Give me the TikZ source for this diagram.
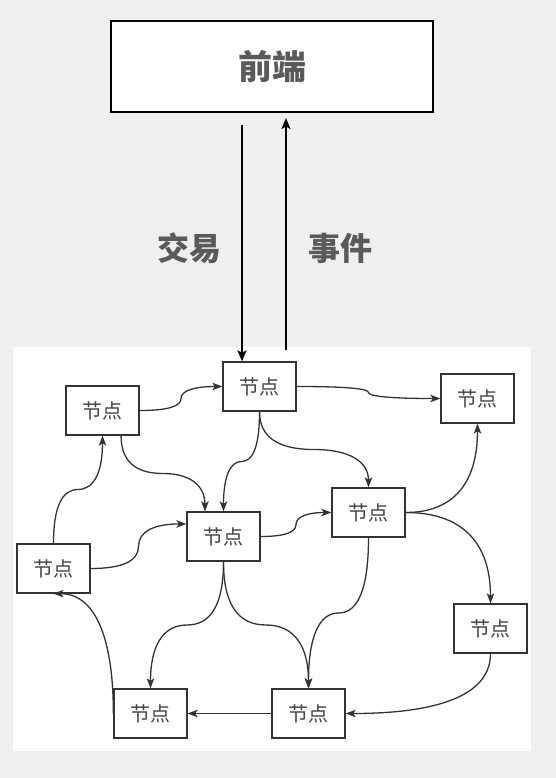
\documentclass[tikz,border=0pt]{standalone}
\usepackage{fontspec}
\newfontfamily\cjk{Noto Sans CJK SC}
\usetikzlibrary{calc,arrows.meta}
\definecolor{bgc}{RGB}{237,239,241}
\definecolor{titlec}{RGB}{90,90,90}
\definecolor{nodec}{RGB}{68,68,68}
\definecolor{edgec}{RGB}{51,51,51}
\tikzset{
  gnode/.style={draw=edgec,line width=1.3pt,fill=white,minimum width=73pt,minimum height=49pt,inner sep=0pt,
    font=\cjk\fontsize{20}{24}\selectfont,text=nodec},
  edge/.style={draw=edgec,line width=1.3pt,-{Stealth[length=10pt,width=7.5pt,inset=2.5pt]}},
  bigarrow/.style={draw=black,line width=2pt,-{Stealth[length=11pt,width=9pt,inset=2.5pt]}},
  biglabel/.style={font=\cjk\bfseries\fontsize{32}{38}\selectfont,text=titlec},
  hs/.style={to path={let \p1=(\tikztostart),\p2=(\tikztotarget),\p3=($(\p1)!.5!(\p2)$),
    \p4=($(\p1)!1/3!(\p2)$),\p5=($(\p1)!2/3!(\p2)$),\p6=($(\p1)!1/6!(\p2)$),\p7=($(\p1)!5/6!(\p2)$) in
    .. controls (\x4,\y1) and (\x3,\y6) .. (\x3,\y3) .. controls (\x3,\y7) and (\x5,\y2) .. (\p2)}},
  vs/.style={to path={let \p1=(\tikztostart),\p2=(\tikztotarget),\p3=($(\p1)!.5!(\p2)$),
    \p4=($(\p1)!1/3!(\p2)$),\p5=($(\p1)!2/3!(\p2)$),\p6=($(\p1)!1/6!(\p2)$),\p7=($(\p1)!5/6!(\p2)$) in
    .. controls (\x1,\y4) and (\x6,\y3) .. (\x3,\y3) .. controls (\x7,\y3) and (\x2,\y5) .. (\p2)}},
  hv/.style={to path={let \p1=(\tikztostart),\p2=(\tikztotarget),
    \p4=($(\p1)!1/3!(\p2)$),\p5=($(\p1)!2/3!(\p2)$) in
    .. controls (\x5,\y1) and (\x2,\y4) .. (\p2)}},
  vh/.style={to path={let \p1=(\tikztostart),\p2=(\tikztotarget),
    \p4=($(\p1)!1/3!(\p2)$),\p5=($(\p1)!2/3!(\p2)$) in
    .. controls (\x1,\y5) and (\x4,\y2) .. (\p2)}},
}
\begin{document}
\begin{tikzpicture}[x=1pt,y=-1pt]
\useasboundingbox (0,0) rectangle (556,778);
\fill[bgc] (0,0) rectangle (556,778);
\fill[white] (13,347) rectangle (531,751);
% front end
\node[draw=black,line width=2pt,fill=white,minimum width=322pt,minimum height=91pt,inner sep=0pt,
  font=\cjk\bfseries\fontsize{34}{40}\selectfont,text=titlec] (FE) at (272,66.5) {前端};
\node[biglabel] (L1) at (189,248) {交易};
\node[biglabel] (L2) at (340,248) {事件};
% graph nodes
\node[gnode] (A) at (259.5,386.5) {节点};
\node[gnode] (B) at (102.5,410.5) {节点};
\node[gnode] (C) at (477.5,398.5) {节点};
\node[gnode] (D) at (223.5,536.5) {节点};
\node[gnode] (E) at (368.5,512.5) {节点};
\node[gnode] (F) at (53.5,568.5) {节点};
\node[gnode] (G) at (490.5,628.5) {节点};
\node[gnode] (H) at (150.5,713.5) {节点};
\node[gnode] (I) at (308.5,713.5) {节点};
% helper anchors
\coordinate (Bq) at ($(B.south west)!.75!(B.south east)$);
\coordinate (Dq) at ($(D.north west)!.25!(D.north east)$);
\coordinate (Dw) at ($(D.north west)!.25!(D.south west)$);
\coordinate (T1) at (242,125);
\coordinate (T2) at (T1 |- A.north);
\coordinate (E1) at (286,350);
\coordinate (E2) at (286,118);
% front end arrows
\draw[bigarrow] (T1) -- (T2);
\draw[bigarrow] (E1) -- (E2);
% graph edges
\draw[edge] (B.east) to[hs] (A.west);
\draw[edge] (A.east) to[hs] (C.west);
\draw[edge] (A.south) to[vs] (D.north);
\draw[edge] (A.south) to[vs] (E.north);
\draw[edge] (Bq) to[vs] (Dq);
\draw[edge] (F.north) to[vs] (B.south);
\draw[edge] (F.east) to[hs] (Dw);
\draw[edge] (D.east) to[hs] (E.west);
\draw[edge] (E.east) to[hv] (C.south);
\draw[edge] (E.east) to[hv] (G.north);
\draw[edge] (E.south) to[vs] (I.north);
\draw[edge] (D.south) to[vs] (H.north);
\draw[edge] (D.south) to[vs] (I.north);
\draw[edge] (I.west) -- (H.east);
\draw[edge] (G.south) to[vh] (I.east);
\draw[edge] (H.west) to[vh] (F.south);
\end{tikzpicture}
\end{document}
